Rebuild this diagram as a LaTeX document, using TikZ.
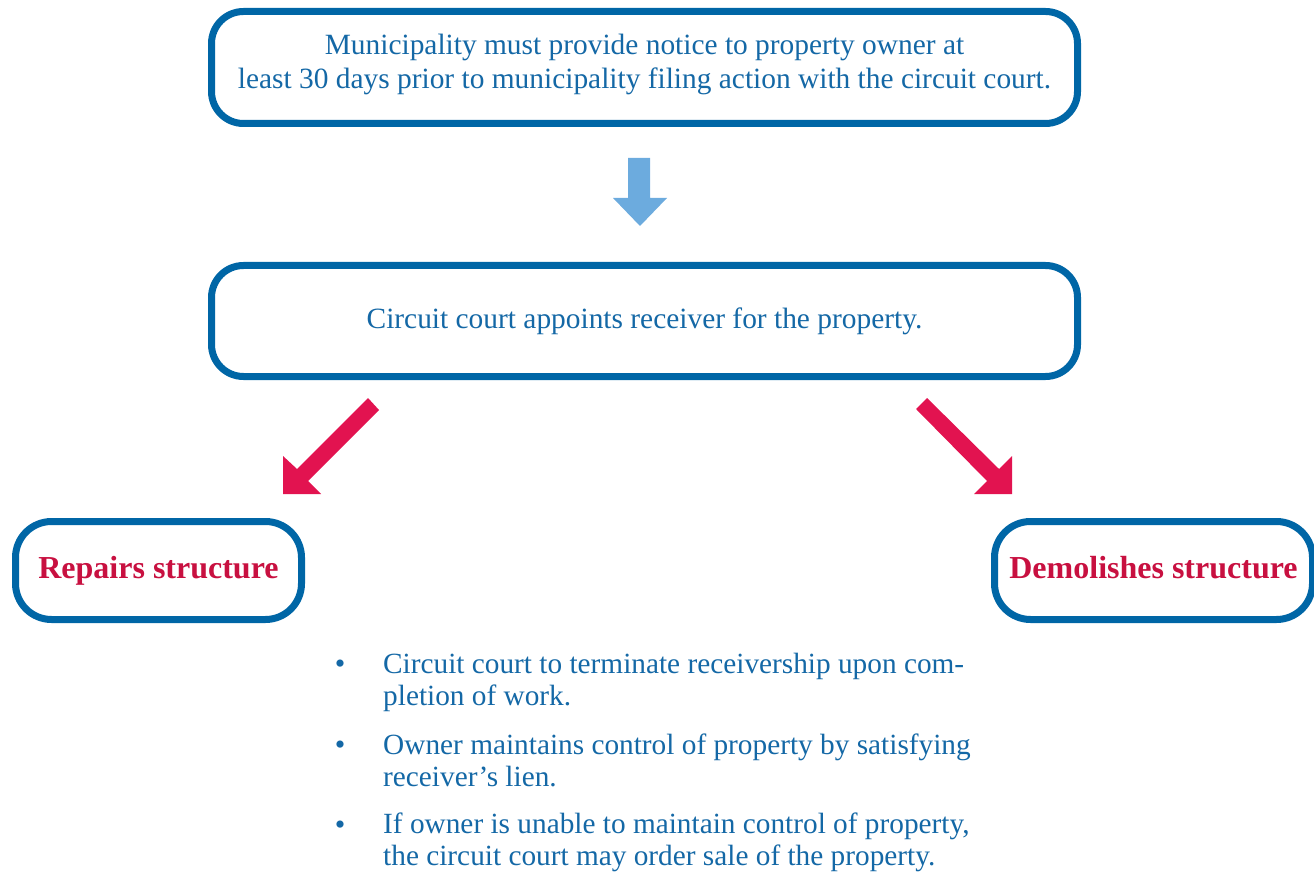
\documentclass[tikz,border=0pt]{standalone}
\usepackage{fontspec}
\setmainfont{Liberation Serif}
\definecolor{boxblue}{RGB}{0,102,166}
\definecolor{txtblue}{RGB}{20,104,166}
\definecolor{arrowblue}{RGB}{108,171,222}
\definecolor{arrowred}{RGB}{226,19,80}
\definecolor{txtred}{RGB}{200,16,64}
\begin{document}
\begin{tikzpicture}[x=1pt,y=-1pt,
  box/.style={draw=boxblue, line width=7pt, rounded corners=32pt, fill=white, inner sep=0pt},
  maintext/.style={text=txtblue, font=\fontsize{29.4}{34}\selectfont, align=center},
  redtext/.style={text=txtred, font=\fontsize{32}{38}\selectfont\bfseries, text height=22pt, text depth=7pt},
  bultext/.style={text=txtblue, font=\fontsize{29.3}{31.5}\selectfont, align=left, inner sep=0pt, anchor=base west},
  bulmark/.style={text=txtblue, font=\fontsize{30}{34}\selectfont, inner sep=0pt, anchor=base},
  bluearrow/.style={fill=arrowblue},
  redarrow/.style={fill=arrowred}]
\useasboundingbox (0,0) rectangle (1314,874);

\node[box, maintext, minimum width=866pt, minimum height=112pt, text depth=13pt] (box1) at (644.5,67.5)
  {Municipality must provide notice to property owner at\\least 30 days prior to municipality filing action with the circuit court.};

\node[box, maintext, minimum width=866pt, minimum height=111pt] (box2) at (644.5,321)
  {Circuit court appoints receiver for the property.};

\node[box, redtext, minimum width=286pt, minimum height=98pt, rounded corners=36pt] (box3) at (158.5,570.5)
  {Repairs structure};

\node[box, redtext, minimum width=318pt, minimum height=98pt, rounded corners=36pt] (box4) at (1153.5,570.5)
  {Demolishes structure};

% block arrows
\fill[bluearrow] (628,158) -- (650,158) -- (650,198) -- (667,198) -- (640,226) -- (613,198) -- (628,198) -- cycle;
\fill[redarrow] (368,398) -- (297,469) -- (283,456) -- (283,494) -- (321,494) -- (308,481) -- (379,410) -- cycle;
\fill[redarrow] (927,398) -- (999,469) -- (1012,456) -- (1012,494) -- (974,494) -- (987,481) -- (916,409) -- cycle;

% bullet list
\node[bulmark] (m1) at (340,673) {•};
\node[bultext] (t1) at (383,705) {Circuit court to terminate receivership upon com-\\pletion of work.};
\node[bulmark] (m2) at (340,754) {•};
\node[bultext] (t2) at (383,786) {Owner maintains control of property by satisfying\\receiver’s lien.};
\node[bulmark] (m3) at (340,834) {•};
\node[bultext] (t3) at (383,865) {If owner is unable to maintain control of property,\\the circuit court may order sale of the property.};
\end{tikzpicture}
\end{document}
